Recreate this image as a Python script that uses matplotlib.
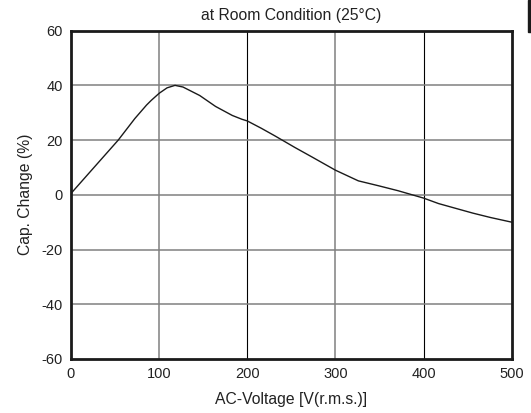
import matplotlib.pyplot as plt
from matplotlib.patches import Rectangle

plt.rcParams['font.family'] = ['Liberation Sans', 'DejaVu Sans']
plt.rcParams['axes.unicode_minus'] = False

# curve
voltage = [0, 25, 53.6, 72.5, 85.7, 91, 100, 109, 118, 127, 146, 164, 183,
           194, 200, 216, 231, 246, 254, 273, 300, 326, 349, 371, 400, 417,
           437, 456, 476, 500]
cap_change = [0.5, 9.6, 20, 27.9, 32.8, 34.5, 37.1, 39.1, 40, 39.4, 36.3,
              32.3, 29, 27.6, 27, 24.3, 21.6, 18.8, 17.3, 13.9, 9.0, 5.1,
              3.3, 1.5, -1.2, -3.2, -5.0, -6.7, -8.3, -10]

x_ticks = [0, 100, 200, 300, 400, 500]
y_ticks = [-60, -40, -20, 0, 20, 40, 60]

fig = plt.figure(figsize=(5.31, 4.13), dpi=100)
ax = fig.add_axes([0.1337, 0.1308, 0.830, 0.795])

# grid: gray lines, with thin black ones at 200 and 400
for v in x_ticks[1:-1]:
    col = 'black' if v in (200, 400) else '#808080'
    lw = 0.8 if v in (200, 400) else 1.1
    ax.axvline(v, color=col, lw=lw, zorder=1)
for c in y_ticks[1:-1]:
    ax.axhline(c, color='#808080', lw=1.1, zorder=1)

ax.plot(voltage, cap_change, color='#1a1a1a', lw=1.0, zorder=3)

ax.set_xlim(0, 500)
ax.set_ylim(-60, 60)
ax.set_xticks(x_ticks)
ax.set_yticks(y_ticks)
ax.tick_params(length=0, pad=6, labelsize=10.5, colors='#222222')
for s in ax.spines.values():
    s.set_linewidth(2.0)
    s.set_color('#1a1a1a')

ax.set_xlabel('AC-Voltage [V(r.m.s.)]', fontsize=11.3, labelpad=8, color='#222222')
ax.set_ylabel('Cap. Change (%)', fontsize=11.3, labelpad=6, color='#222222')
ax.set_title('at Room Condition (25°C)', fontsize=11.3, pad=8, color='#222222')

# cropped black bar at the top right edge of the reference
fig.patches.append(Rectangle((528 / 531, 1 - 32 / 413), 3 / 531, 32 / 413,
                             transform=fig.transFigure, color='#1a1a1a'))

fig.savefig('out.png', dpi=100)
